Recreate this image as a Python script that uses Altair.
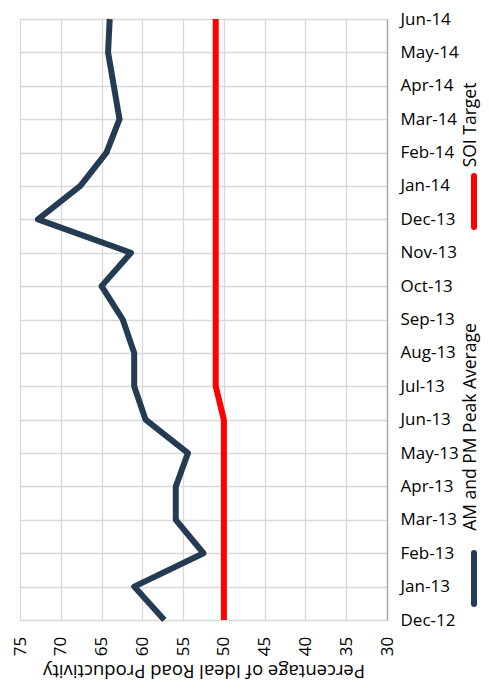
import altair as alt
import pandas as pd

months = ["Dec-12", "Jan-13", "Feb-13", "Mar-13", "Apr-13", "May-13", "Jun-13",
          "Jul-13", "Aug-13", "Sep-13", "Oct-13", "Nov-13", "Dec-13", "Jan-14",
          "Feb-14", "Mar-14", "Apr-14", "May-14", "Jun-14"]
peak_avg = [57.3, 61.0, 52.5, 55.9, 55.9, 54.4, 59.6, 61.0, 61.0, 62.4, 65.0, 61.4,
            72.8, 67.6, 64.4, 62.8, 63.5, 64.2, 64.0]
soi_target = [50, 50, 50, 50, 50, 50, 50, 51, 51, 51, 51, 51, 51, 51, 51, 51, 51, 51, 51]
series_names = ["AM and PM Peak Average", "SOI Target"]
series_colors = ["#253b53", "#ff0000"]
x_ticks = [75, 70, 65, 60, 55, 50, 45, 40, 35, 30]
x_title = "Percentage of Ideal Road Productivity"

rows = []
for i, m in enumerate(months):
    rows.append({"month": m, "order": i, "value": peak_avg[i], "series": series_names[0]})
    rows.append({"month": m, "order": i, "value": soi_target[i], "series": series_names[1]})
df = pd.DataFrame(rows)

FONT = "Open Sans"

base = alt.Chart(df).encode(
    x=alt.X("value:Q",
            scale=alt.Scale(domain=[30, 75], reverse=True, nice=False, zero=False),
            axis=alt.Axis(values=x_ticks, title=x_title, titleAngle=180,
                          titleBaseline="middle", titleY=50, titleX=183.5,
                          titleAlign="center",
                          labelAngle=270, labelAlign="center", labelBaseline="middle",
                          labelPadding=26, domain=False, ticks=False,
                          grid=True, gridColor="#d9d9d9", gridWidth=1.3,
                          labelFont=FONT, labelFontSize=17, labelColor="#000000",
                          titleFont=FONT, titleFontSize=18.5, titleFontWeight="normal",
                          titleColor="#000000")),
    y=alt.Y("month:N", sort=months[::-1],
            scale=alt.Scale(type="point", padding=0),
            axis=alt.Axis(orient="right", title=None, domain=True, domainColor="#a6a6a6",
                          domainWidth=1.3, ticks=False, labelPadding=13,
                          grid=True, gridColor="#d9d9d9", gridWidth=1.3,
                          labelFont=FONT, labelFontSize=17, labelColor="#000000",
                          labelAlign="left", labelBaseline="middle")),
    color=alt.Color("series:N", scale=alt.Scale(domain=series_names, range=series_colors),
                    legend=None),
    detail="series:N",
    order="order:Q",
)

lines = base.mark_line(strokeWidth=6, strokeJoin="round", clip=False)

leg_df = pd.DataFrame({
    "name": series_names,
    "ty": [408, 106],
    "ry1": [534, 157],
    "ry2": [585, 208],
})

leg_text = alt.Chart(leg_df).mark_text(angle=270, align="center", baseline="middle",
                                       font=FONT, fontSize=17.5, color="#000000").encode(
    text="name:N",
    x=alt.value(451),
    y=alt.Y("ty:Q", scale=None),
)

leg_rule = alt.Chart(leg_df).mark_rule(strokeWidth=6, strokeCap="round").encode(
    x=alt.value(454),
    y=alt.Y("ry1:Q", scale=None),
    y2="ry2:Q",
    color=alt.Color("name:N", scale=alt.Scale(domain=series_names, range=series_colors),
                    legend=None),
)

chart = alt.layer(lines, leg_rule, leg_text).properties(
    width=367, height=601,
    autosize=alt.AutoSizeParams(type="none"),
    padding={"left": 12, "top": 11, "right": 94, "bottom": 64},
).configure_view(stroke=None).configure(background="white")

chart.save("out.html", embed_options={"renderer": "svg", "actions": False})
